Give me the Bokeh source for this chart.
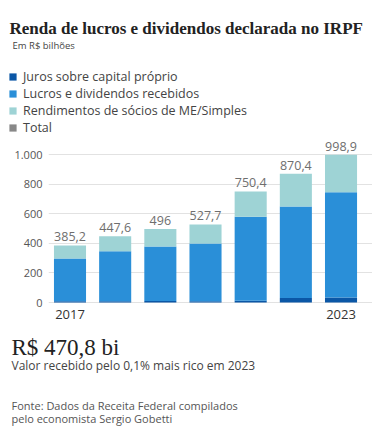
from bokeh.plotting import figure
from bokeh.layouts import column
from bokeh.models import (ColumnDataSource, Legend, LegendItem, FixedTicker, Range1d)
from bokeh.core.properties import value
from bokeh.embed import file_html
from bokeh.resources import INLINE

years = [2017, 2018, 2019, 2020, 2021, 2022, 2023]
juros = [8, 8, 10, 9, 12, 30, 34]
lucros = [289, 339, 368, 390, 567, 619, 711]
totals = [385.2, 447.6, 496, 527.7, 750.4, 870.4, 998.9]
total_labels = ["385,2", "447,6", "496", "527,7", "750,4", "870,4", "998,9"]
rendimentos = [round(t - j - l, 1) for t, j, l in zip(totals, juros, lucros)]

series_names = ["Juros sobre capital próprio", "Lucros e dividendos recebidos",
                "Rendimentos de sócios de ME/Simples", "Total"]
colors = ["#0b57a6", "#2a8fd8", "#9ed3d5", "#888888"]
y_ticks = [0, 200, 400, 600, 800, 1000]
y_tick_labels = {0: "0", 200: "200", 400: "400", 600: "600", 800: "800", 1000: "1.000"}

title_text = "Renda de lucros e dividendos declarada no IRPF"
subtitle_text = "Em R$ bilhões"
highlight_text = "R$ 470,8 bi"
highlight_note = "Valor recebido pelo 0,1% mais rico em 2023"
source_lines = ["Fonte: Dados da Receita Federal compilados",
                "pelo economista Sergio Gobetti"]

W = 372
TOP_H, MID_H, BOT_H = 138, 192, 106

src = ColumnDataSource(dict(year=years, juros=juros, lucros=lucros,
                            rend=rendimentos, total=totals, lab=total_labels))


def blank(h):
    f = figure(width=W, height=h, output_backend="svg", toolbar_location=None,
               title=None, min_border=0, min_border_left=0, min_border_right=0,
               min_border_top=0, min_border_bottom=0,
               x_axis_type=None, y_axis_type=None)
    f.x_range = Range1d(0, W)
    f.y_range = Range1d(h, 0)
    f.outline_line_color = None
    f.xgrid.visible = False
    f.ygrid.visible = False
    return f


def txt(f, x, y, t, size, font="Open Sans", style="normal", color="#333333"):
    f.text(x=[x], y=[y], text=[t], text_font=value(font), text_font_size=size,
           text_font_style=style, text_color=color, text_baseline="middle",
           text_align="left")


# ---------- header: title, subtitle, legend ----------
top = blank(TOP_H)
txt(top, 9, 28, title_text, "17px", font="Liberation Serif", style="bold",
    color="#222222")
txt(top, 12, 45, subtitle_text, "9.5px", color="#444444")
# legend swatches come from renderers of the same series (years lie far outside
# this header's x range, so the bars themselves are not visible here)
lr = top.vbar_stack(["juros", "lucros", "rend"], x="year", width=0.71, source=src,
                    color=colors[:3], line_color=None)
lt = top.vbar(x="year", top="total", width=0.71, source=src, color=colors[3],
              line_color=None)
items = [LegendItem(label=series_names[i], renderers=[lr[i]]) for i in range(3)]
items.append(LegendItem(label=series_names[3], renderers=[lt]))
legend = Legend(items=items, location=(8, 2), orientation="vertical",
                glyph_width=9, glyph_height=9, label_height=12, label_standoff=6,
                spacing=0, padding=0, margin=0, border_line_color=None,
                background_fill_alpha=0, label_text_font="Open Sans",
                label_text_font_size="12.5px", label_text_color="#444444")
top.add_layout(legend, "center")

# ---------- main chart ----------
FL, FB = 48, 22
px_per_unit = 0.148
frame_h = MID_H - FB
p = figure(width=W, height=MID_H, output_backend="svg", toolbar_location=None,
           title=None, min_border_left=FL, min_border_right=0, min_border_top=0,
           min_border_bottom=FB)
p.x_range = Range1d(2017 - 0.476, 2017 - 0.476 + (W - FL) / 45.17)
p.y_range = Range1d(-40.5, -40.5 + frame_h / px_per_unit)
p.outline_line_color = None

p.vbar_stack(["juros", "lucros", "rend"], x="year", width=0.71, source=src,
             color=colors[:3], line_color=None)
p.text(x="year", y="total", text="lab", source=src, text_align="center",
       text_baseline="bottom", y_offset=-4, text_font=value("Open Sans"),
       text_font_size="12.5px", text_color="#6e6e6e")

p.yaxis.ticker = FixedTicker(ticks=y_ticks)
p.yaxis.major_label_overrides = y_tick_labels
p.yaxis.axis_line_color = None
p.yaxis.major_tick_line_color = None
p.yaxis.minor_tick_line_color = None
p.yaxis.major_tick_out = 0
p.yaxis.major_tick_in = 0
p.yaxis.major_label_text_font = "Open Sans"
p.yaxis.major_label_text_font_size = "11px"
p.yaxis.major_label_text_color = "#555555"
p.yaxis.major_label_standoff = 6

p.xaxis.ticker = FixedTicker(ticks=[2017, 2023])
p.xaxis.major_label_overrides = {2017: "2017", 2023: "2023"}
p.xaxis.axis_line_color = None
p.xaxis.major_tick_line_color = None
p.xaxis.minor_tick_line_color = None
p.xaxis.major_tick_out = 0
p.xaxis.major_tick_in = 0
p.xaxis.major_label_text_font = "Open Sans"
p.xaxis.major_label_text_font_size = "13px"
p.xaxis.major_label_text_color = "#333333"
p.xaxis.major_label_standoff = 1

p.xgrid.grid_line_color = None
p.ygrid.grid_line_color = "#e2e2e2"
p.ygrid.ticker = FixedTicker(ticks=y_ticks)

# ---------- footer ----------
bot = blank(BOT_H)
txt(bot, 11, 17, highlight_text, "23px", font="Liberation Serif", color="#222222")
txt(bot, 11, 35, highlight_note, "12px", color="#444444")
txt(bot, 11, 75, source_lines[0], "11px", color="#555555")
txt(bot, 11, 88, source_lines[1], "11px", color="#555555")

# each figure sits in its own box so that their frames are not aligned together
layout = column(column(top), column(p), column(bot), spacing=0)
open("out.html", "w").write(file_html(layout, INLINE))
